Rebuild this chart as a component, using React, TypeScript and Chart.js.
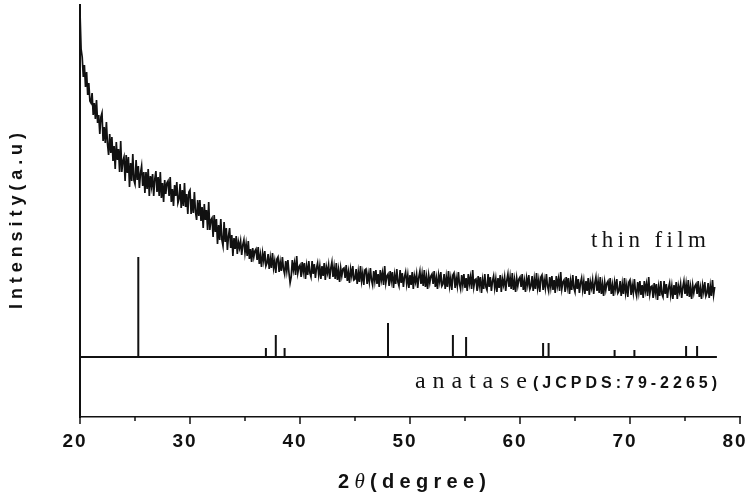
import React, { useEffect, useRef } from 'react';
import { Chart, registerables } from 'chart.js';

Chart.register(...registerables);

// ---- data ----
const filmStart = 20;
const filmStep = 0.1;
const filmIntensity = [
  405, 368, 360, 340, 352, 330, 345, 322, 334, 316,
  314, 324, 302, 314, 298, 317, 294, 302, 283, 300,
  304, 276, 290, 274, 295, 273, 262, 283, 264, 280,
  256, 271, 248, 275, 257, 268, 245, 276, 245, 256,
  260, 236, 262, 244, 260, 230, 254, 236, 263, 237,
  233, 257, 237, 251, 229, 244, 251, 231, 245, 224,
  245, 228, 248, 221, 241, 231, 243, 221, 238, 246,
  225, 240, 221, 245, 219, 234, 215, 237, 223, 234,
  236, 221, 240, 215, 228, 211, 232, 221, 235, 214,
  218, 233, 209, 227, 211, 234, 210, 223, 203, 225,
  227, 203, 218, 204, 225, 205, 197, 217, 201, 217,
  196, 210, 189, 213, 197, 207, 187, 215, 187, 197,
  199, 180, 202, 185, 198, 173, 192, 177, 198, 177,
  171, 195, 175, 189, 167, 181, 189, 169, 182, 161,
  179, 168, 181, 163, 175, 169, 176, 162, 172, 177,
  164, 173, 161, 176, 158, 168, 155, 169, 160, 166,
  168, 157, 170, 153, 162, 150, 164, 156, 166, 151,
  154, 163, 148, 159, 149, 164, 149, 156, 144, 158,
  160, 145, 155, 146, 160, 148, 143, 156, 146, 157,
  144, 134, 140, 157, 147, 154, 142, 161, 144, 150,
  152, 140, 155, 145, 154, 138, 151, 142, 156, 144,
  140, 156, 143, 153, 139, 149, 154, 142, 151, 138,
  151, 141, 154, 137, 150, 144, 152, 138, 149, 155,
  140, 150, 138, 154, 137, 147, 135, 149, 141, 148,
  149, 139, 152, 136, 145, 134, 148, 141, 151, 137,
  138, 148, 133, 145, 135, 151, 136, 144, 132, 147,
  148, 133, 143, 135, 149, 137, 132, 146, 136, 147,
  133, 143, 130, 147, 137, 144, 132, 151, 134, 141,
  143, 131, 146, 136, 145, 129, 142, 133, 148, 135,
  131, 147, 134, 144, 130, 140, 145, 133, 142, 129,
  142, 132, 145, 128, 141, 135, 143, 129, 140, 146,
  133, 143, 131, 147, 130, 140, 128, 142, 134, 141,
  143, 133, 146, 130, 139, 128, 142, 135, 145, 131,
  133, 143, 128, 140, 130, 146, 131, 139, 127, 142,
  144, 129, 139, 131, 145, 133, 128, 142, 132, 143,
  129, 139, 126, 143, 133, 140, 128, 147, 130, 137,
  138, 126, 141, 131, 140, 124, 137, 128, 143, 130,
  127, 143, 130, 140, 126, 136, 141, 129, 138, 125,
  139, 129, 142, 125, 138, 132, 140, 126, 137, 143,
  130, 140, 128, 144, 127, 137, 125, 139, 131, 138,
  140, 130, 143, 127, 136, 125, 139, 132, 142, 128,
  131, 141, 126, 138, 128, 144, 129, 137, 125, 140,
  142, 127, 137, 129, 143, 131, 126, 140, 130, 141,
  127, 137, 124, 141, 131, 138, 126, 145, 128, 135,
  137, 125, 140, 130, 139, 123, 136, 127, 142, 129,
  125, 141, 128, 138, 124, 134, 139, 127, 136, 123,
  136, 126, 139, 122, 135, 129, 137, 123, 134, 140,
  126, 136, 124, 140, 123, 133, 121, 135, 127, 134,
  136, 126, 139, 123, 132, 121, 135, 128, 138, 124,
  126, 136, 121, 133, 123, 139, 124, 132, 120, 135,
  137, 122, 132, 124, 138, 126, 121, 135, 125, 136,
  122, 132, 119, 136, 126, 133, 121, 140, 123, 130,
  131, 119, 134, 124, 133, 117, 130, 121, 136, 123,
  120, 136, 123, 133, 119, 129, 134, 122, 131, 118,
  132, 122, 135, 118, 131, 125, 133, 119, 130, 136,
  123, 133, 121, 137, 120, 130, 118, 132, 124, 131,
  133, 123, 136, 120, 129, 118, 132, 125, 135, 121,
  124, 134, 119, 131, 121, 137, 122, 130,
];

const anataseBaseline = 60;
const anataseStart = 20;
const anataseEnd = 77.9;
const anatasePeaks = [25.3, 36.9, 37.8, 38.6, 48.0, 53.9, 55.1, 62.1, 62.6, 68.6, 70.4, 75.1, 76.1];
const anataseHeights = [160, 69, 82, 69, 94, 82, 80, 74, 74, 67, 67, 71, 71];

const xMin = 20;
const xMax = 80;
const yMin = 0;
const yMax = 412;
const xMajorTicks = [20, 30, 40, 50, 60, 70, 80];
const xMinorTicks = [25, 35, 45, 55, 65, 75];
const xTickLabels = ['20', '30', '40', '50', '60', '70', '80'];
const xTitleParts = ['2', 'θ', '(degree)'];
const yTitle = 'Intensity(a.u)';
const filmLabel = 'thin film';
const refLabel = 'anatase';
const refCard = '(JCPDS:79-2265)';

const INK = '#111';
const SANS_B = (s: number) => `bold ${s}px "Liberation Sans", Arial, sans-serif`;
const SERIF = (s: number) => `${s}px "Liberation Serif", "Times New Roman", serif`;

type Part = { text: string; font: string };

function drawSpaced(ctx: CanvasRenderingContext2D, parts: Part[], x: number, y: number, target: number) {
  const chars: { ch: string; font: string }[] = [];
  parts.forEach((p) => {
    for (const ch of p.text) chars.push({ ch, font: p.font });
  });
  const widths = chars.map((c) => {
    ctx.font = c.font;
    return ctx.measureText(c.ch).width;
  });
  const natural = widths.reduce((a, b) => a + b, 0);
  const gap = chars.length > 1 ? (target - natural) / (chars.length - 1) : 0;
  let cx = x;
  chars.forEach((c, i) => {
    ctx.font = c.font;
    ctx.fillText(c.ch, cx, y);
    cx += widths[i] + gap;
  });
}

const textPlugin = {
  id: 'xrdText',
  afterDraw(chart: any) {
    const ctx: CanvasRenderingContext2D = chart.ctx;
    const xs = chart.scales.x;
    const area = chart.chartArea;
    ctx.save();
    ctx.fillStyle = INK;
    ctx.strokeStyle = INK;
    ctx.textBaseline = 'alphabetic';
    ctx.textAlign = 'left';

    // tick marks
    ctx.lineWidth = 1.5;
    xMajorTicks.forEach((v) => {
      const px = xs.getPixelForValue(v);
      ctx.beginPath();
      ctx.moveTo(px, area.bottom);
      ctx.lineTo(px, area.bottom + 7);
      ctx.stroke();
    });
    xMinorTicks.forEach((v) => {
      const px = xs.getPixelForValue(v);
      ctx.beginPath();
      ctx.moveTo(px, area.bottom);
      ctx.lineTo(px, area.bottom + 4);
      ctx.stroke();
    });

    // tick labels
    xMajorTicks.forEach((v, i) => {
      const px = xs.getPixelForValue(v) - 6;
      const w = 23;
      drawSpaced(ctx, [{ text: xTickLabels[i], font: SANS_B(19) }], px - w / 2, area.bottom + 30, w);
    });

    // x title
    drawSpaced(
      ctx,
      [
        { text: xTitleParts[0], font: SANS_B(20) },
        { text: xTitleParts[1], font: `italic 21px "Liberation Serif", serif` },
        { text: xTitleParts[2], font: SANS_B(20) },
      ],
      338,
      488,
      148
    );

    // y title
    ctx.save();
    ctx.translate(22, 309);
    ctx.rotate(-Math.PI / 2);
    drawSpaced(ctx, [{ text: yTitle, font: SANS_B(18) }], 0, 0, 176);
    ctx.restore();

    // annotations
    drawSpaced(ctx, [{ text: filmLabel, font: SERIF(23) }], 591, 247, 115);
    drawSpaced(ctx, [{ text: refLabel, font: SERIF(24) }], 415, 388, 112);
    drawSpaced(ctx, [{ text: refCard, font: SANS_B(16) }], 533, 388, 184);

    ctx.restore();
  },
};

export default function App() {
  const ref = useRef<HTMLCanvasElement | null>(null);

  useEffect(() => {
    if (!ref.current) return;
    const film = filmIntensity.map((v, i) => ({ x: filmStart + i * filmStep, y: v }));
    const sticks: { x: number; y: number }[] = [{ x: anataseStart, y: anataseBaseline }];
    anatasePeaks.forEach((p, i) => {
      sticks.push({ x: p, y: anataseBaseline });
      sticks.push({ x: p, y: anataseHeights[i] });
      sticks.push({ x: p, y: anataseBaseline });
    });
    sticks.push({ x: anataseEnd, y: anataseBaseline });

    const chart = new Chart(ref.current, {
      type: 'line',
      data: {
        datasets: [
          {
            label: filmLabel,
            data: film,
            borderColor: INK,
            borderWidth: 1.7,
            pointRadius: 0,
            tension: 0,
            fill: false,
          },
          {
            label: refLabel,
            data: sticks,
            borderColor: INK,
            borderWidth: 2,
            pointRadius: 0,
            tension: 0,
            fill: false,
          },
        ],
      },
      options: {
        animation: false,
        responsive: false,
        parsing: false as any,
        layout: { padding: { top: 5, right: 9, left: 0, bottom: 0 } },
        plugins: { legend: { display: false }, tooltip: { enabled: false } },
        scales: {
          x: {
            type: 'linear',
            min: xMin,
            max: xMax,
            ticks: { display: false, stepSize: 10 },
            grid: { display: false, drawTicks: false },
            border: { display: true, color: INK, width: 1.5 },
            afterFit: (s: any) => {
              s.height = 78;
            },
          },
          y: {
            type: 'linear',
            min: yMin,
            max: yMax,
            ticks: { display: false },
            grid: { display: false, drawTicks: false },
            border: { display: true, color: INK, width: 2 },
            afterFit: (s: any) => {
              s.width = 80;
            },
          },
        },
      },
      plugins: [textPlugin],
    });
    return () => chart.destroy();
  }, []);

  return (
    <div style={{ position: 'absolute', left: 0, top: 0, width: 749, height: 495, background: '#fff' }}>
      <canvas ref={ref} width={749} height={495} style={{ width: 749, height: 495 }} />
    </div>
  );
}
